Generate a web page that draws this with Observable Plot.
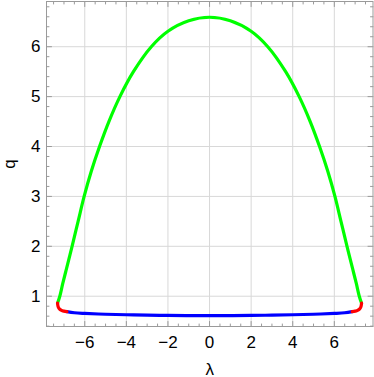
<!DOCTYPE html>
<html><head><meta charset="utf-8">
<script src="https://cdn.jsdelivr.net/npm/d3@7"></script>
<script src="https://cdn.jsdelivr.net/npm/@observablehq/plot@0.6"></script>
<style>html,body{margin:0;padding:0;background:#fff}svg{display:block}</style>
</head><body><div id="chart"></div>
<script>
// Green branch
const greenLambda = [-7.31,-7.20,-7.06,-6.91,-6.76,-6.61,-6.32,-6.03,-5.69,-5.29,-4.84,-4.31,-3.66,-2.80,-2.0,-1.0,0,1.0,2.0,2.80,3.66,4.31,4.84,5.29,5.69,6.03,6.32,6.61,6.76,6.91,7.06,7.20,7.31];
const greenQ      = [0.86,1.0,1.25,1.5,1.75,2.0,2.5,3.0,3.5,4.0,4.5,5.0,5.5,6.0,6.31,6.52,6.59,6.52,6.31,6.0,5.5,5.0,4.5,4.0,3.5,3.0,2.5,2.0,1.75,1.5,1.25,1.0,0.86];
// Blue branch
const blueLambda = [-6.86,-6.5,-6.0,-5.0,-4.0,-3.0,-2.0,-1.0,0,1.0,2.0,3.0,4.0,5.0,6.0,6.5,6.86];
const blueQ      = [0.690,0.668,0.655,0.638,0.628,0.620,0.615,0.612,0.610,0.612,0.615,0.620,0.628,0.638,0.655,0.668,0.690];
// Red branches
const redLeftLambda = [-7.31,-7.28,-7.22,-7.12,-7.0,-6.86];
const redLeftQ      = [0.86,0.79,0.745,0.715,0.700,0.690];
const redRightLambda = [6.86,7.0,7.12,7.22,7.28,7.31];
const redRightQ      = [0.690,0.700,0.715,0.745,0.79,0.86];
// Ticks
const xMajor = [-6,-4,-2,0,2,4,6];
const xMinor = [-7.5,-7,-6.5,-5.5,-5,-4.5,-3.5,-3,-2.5,-1.5,-1,-0.5,0.5,1,1.5,2.5,3,3.5,4.5,5,5.5,6.5,7,7.5];
const yMajor = [1,2,3,4,5,6];
const yMinor = [0.4,0.6,0.8,1.2,1.4,1.6,1.8,2.2,2.4,2.6,2.8,3.2,3.4,3.6,3.8,4.2,4.4,4.6,4.8,5.2,5.4,5.6,5.8,6.2,6.4,6.6,6.8];

const toRows = (xs, ys) => xs.map((x, i) => ({x, y: ys[i]}));
const green = toRows(greenLambda, greenQ);
const blue = toRows(blueLambda, blueQ);
const redL = toRows(redLeftLambda, redLeftQ);
const redR = toRows(redRightLambda, redRightQ);

const frameColor = "#9a9a9a";
const gridColor = "#d8d8d8";
const lw = 3.2;

const tickShape = {draw(context, l) { context.moveTo(0, 0); context.lineTo(0, -l); }};
const xTicks = (values, anchor, len) => Plot.vector(values, {
  x: d => d, frameAnchor: anchor, length: len, rotate: anchor === "bottom" ? 0 : 180,
  anchor: "start", shape: tickShape, stroke: frameColor, strokeWidth: 1
});
const yTicks = (values, anchor, len) => Plot.vector(values, {
  y: d => d, frameAnchor: anchor, length: len, rotate: anchor === "left" ? 90 : 270,
  anchor: "start", shape: tickShape, stroke: frameColor, strokeWidth: 1
});

const chart = Plot.plot({
  width: 374,
  height: 377,
  marginLeft: 46,
  marginRight: 1.5,
  marginTop: 1,
  marginBottom: 51,
  style: {fontFamily: "'Liberation Sans', Arial, sans-serif", fontSize: "17px", background: "#fff", color: "#000"},
  x: {domain: [-7.84, 7.86], axis: null},
  y: {domain: [0.393, 6.906], axis: null},
  length: {type: "identity"},
  marks: [
    Plot.gridX(xMajor, {stroke: gridColor, strokeOpacity: 1}),
    Plot.gridY(yMajor, {stroke: gridColor, strokeOpacity: 1}),
    xTicks(xMajor, "bottom", 5),
    xTicks(xMinor, "bottom", 2.5),
    xTicks(xMajor, "top", 5),
    xTicks(xMinor, "top", 2.5),
    yTicks(yMajor, "left", 5),
    yTicks(yMinor, "left", 2.5),
    yTicks(yMajor, "right", 5),
    yTicks(yMinor, "right", 2.5),
    Plot.axisX(xMajor, {anchor: "bottom", tickSize: 0, tickPadding: 9, fontSize: 17, fill: "#000", label: "λ", labelAnchor: "center", labelArrow: "none", labelOffset: 48}),
    Plot.axisY(yMajor, {anchor: "left", tickSize: 0, tickPadding: 6, fontSize: 17, fill: "#000", tickFormat: d => String(d), label: "q", labelAnchor: "center", labelArrow: "none", labelOffset: 44}),
    Plot.frame({stroke: frameColor}),
    Plot.line(blue, {x: "x", y: "y", stroke: "#0000ff", strokeWidth: lw, curve: "catmull-rom"}),
    Plot.line(green, {x: "x", y: "y", stroke: "#00ff00", strokeWidth: lw, curve: "catmull-rom"}),
    Plot.line(redL, {x: "x", y: "y", stroke: "#ff0000", strokeWidth: lw, curve: "catmull-rom"}),
    Plot.line(redR, {x: "x", y: "y", stroke: "#ff0000", strokeWidth: lw, curve: "catmull-rom"})
  ]
});
document.getElementById("chart").appendChild(chart);
</script>
</body></html>
